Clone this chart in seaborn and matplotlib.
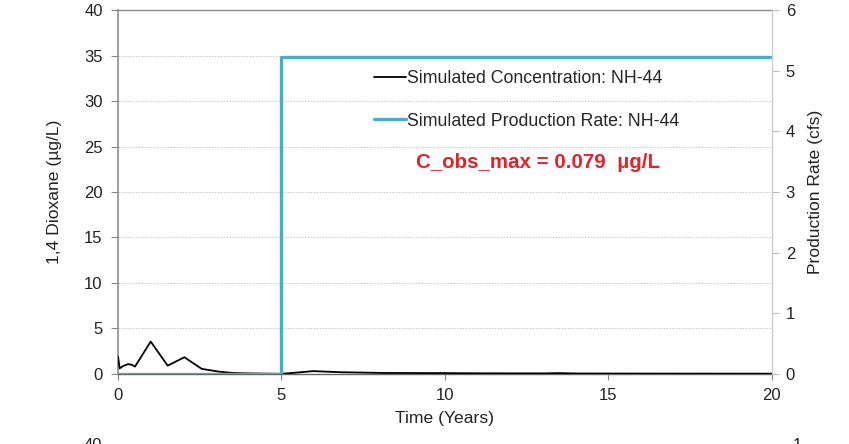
import matplotlib
matplotlib.use("Agg")
import matplotlib.pyplot as plt
import seaborn as sns
import pandas as pd

# Simulated 1,4-dioxane concentration at well NH-44 (µg/L)
conc_time = [0.0, 0.05, 0.15, 0.31, 0.42, 0.52, 1.0, 1.52, 2.03, 2.56, 3.07, 3.5, 4.0, 5.0,
             5.5, 5.97, 6.8, 8.1, 10.0, 11.0, 13.0, 13.5, 14.0, 16.0, 20.0]
conc_value = [1.9, 0.6, 0.85, 1.07, 1.0, 0.8, 3.55, 0.9, 1.83, 0.55, 0.25, 0.1, 0.05, 0.0,
              0.15, 0.3, 0.18, 0.1, 0.08, 0.06, 0.05, 0.08, 0.04, 0.03, 0.02]

# Simulated production rate at well NH-44 (cfs)
rate_time = [0.0, 5.0, 5.0, 20.0]
rate_value = [0.0, 0.0, 5.22, 5.22]

conc_label = "Simulated Concentration: NH-44"
rate_label = "Simulated Production Rate: NH-44"
note_text = "C_obs_max = 0.079  µg/L"

sns.set_theme(style="white")
plt.rcParams["font.family"] = ["Liberation Sans", "DejaVu Sans"]

conc_df = pd.DataFrame({"t": conc_time, "c": conc_value})
rate_df = pd.DataFrame({"t": rate_time, "q": rate_value})

fig = plt.figure(figsize=(8.49, 4.44), dpi=100)
ax = fig.add_axes([0.139, 0.158, 0.770, 0.819])
ax2 = ax.twinx()

sns.lineplot(data=conc_df, x="t", y="c", ax=ax, color="black", lw=1.3,
             estimator=None, sort=False, label=conc_label, zorder=3)
sns.lineplot(data=rate_df, x="t", y="q", ax=ax2, color="#4bacc6", lw=2.4,
             estimator=None, sort=False, label=rate_label, zorder=2)

ax.set_xlim(0, 20)
ax.set_ylim(0, 40)
ax2.set_ylim(0, 6)
ax.set_xticks([0, 5, 10, 15, 20])
ax.set_yticks(range(0, 41, 5))
ax2.set_yticks(range(0, 7))

# dotted horizontal gridlines on the concentration axis
for yv in range(5, 40, 5):
    ax.axhline(yv, color="#c4c4c4", lw=0.7, ls=(0, (1.5, 1.5)), zorder=0)

ax.set_xlabel("Time (Years)", fontsize=12.6, color="#222222", labelpad=6)
ax.set_ylabel("1,4 Dioxane (µg/L)", fontsize=12.6, color="#222222", labelpad=16)
ax2.set_ylabel("Production Rate (cfs)", fontsize=12.6, color="#222222", labelpad=9)

ax.tick_params(axis="y", direction="out", length=5, width=0.8,
               colors="#888888", labelcolor="#222222", labelsize=12, pad=6, left=True)
ax.tick_params(axis="x", direction="out", length=4, width=0.8,
               colors="#888888", labelcolor="#222222", labelsize=12, pad=6, bottom=True)
ax2.tick_params(axis="y", direction="out", length=5, width=0.8,
                colors="#bbbbbb", labelcolor="#222222", labelsize=12, pad=5, right=True)

for a in (ax, ax2):
    for side in ("top", "left", "bottom", "right"):
        a.spines[side].set_visible(False)
ax.spines["left"].set_visible(True)
ax.spines["left"].set_color("#8c8c8c")
ax.spines["left"].set_linewidth(1.2)
ax.spines["bottom"].set_visible(True)
ax.spines["bottom"].set_color("#666666")
ax.spines["bottom"].set_linewidth(1.0)
ax.spines["top"].set_visible(True)
ax.spines["top"].set_color("#8c8c8c")
ax.spines["top"].set_linewidth(1.0)
ax2.spines["right"].set_visible(True)
ax2.spines["right"].set_color("#cccccc")
ax2.spines["right"].set_linewidth(1.0)

h1, l1 = ax.get_legend_handles_labels()
h2, l2 = ax2.get_legend_handles_labels()
if ax2.get_legend() is not None:
    ax2.get_legend().remove()
ax.legend(h1 + h2, l1 + l2, loc="upper left", bbox_to_anchor=(0.381, 0.854),
          frameon=False, fontsize=12.8, handlelength=1.8, handletextpad=0.05,
          labelspacing=1.42, borderaxespad=0)

ax.text(12.85, 23.3, note_text, color="#e8202a", fontsize=14.8, fontweight="bold",
        ha="center", va="center")

# top of the next panel's axis labels peeking in at the bottom edge
fig.text(84 / 849, 6 / 444, "40", fontsize=12, color="#222222", va="top", ha="left")
fig.text(793 / 849, 6 / 444, "1", fontsize=12, color="#222222", va="top", ha="left")

fig.savefig("out.png", dpi=100)
